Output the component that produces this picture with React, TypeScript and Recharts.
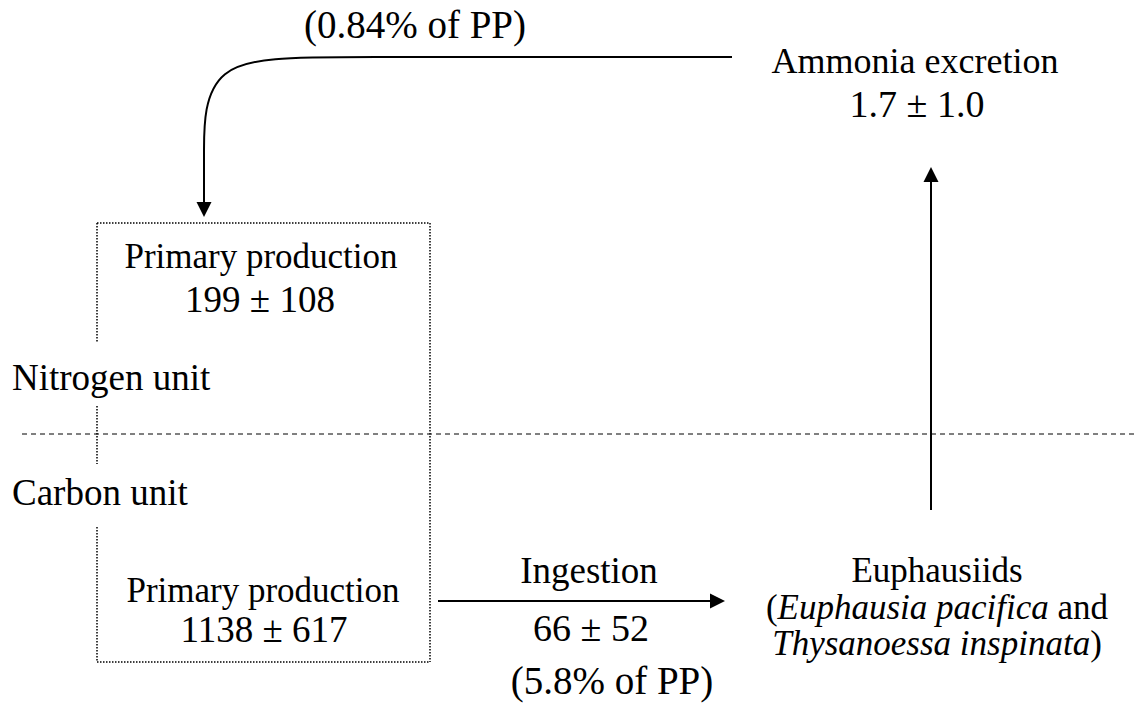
import { ComposedChart, XAxis, YAxis, ReferenceLine, Scatter, Line } from 'recharts';

const W = 1138;
const H = 709;

// flux estimates, mean ± sd
const fluxMeans = ['199', '1138', '66', '1.7'];   // PP (N), PP (C), ingestion, excretion
const fluxSds = ['108', '617', '52', '1.0'];
const pctOfPP = ['5.8', '0.84'];                 // ingestion, excretion
const unitNames = ['Nitrogen unit', 'Carbon unit'];
const speciesNames = ['Euphausia pacifica', 'Thysanoessa inspinata'];

const pm = (i: number) => `${fluxMeans[i]} \u00B1 ${fluxSds[i]}`;

// layout in diagram coordinates (x to the right, y downwards)
const box = { left: 97, right: 430, top: 223, bottom: 662 };
const leftEdgeGaps = [[223, 343], [406, 464], [527, 662]];
const unitLineY = 434;

const returnPath = [
  { x: 732, y: 57 },
  { x: 330, y: 57 },
  { x: 204, y: 57 },
  { x: 204, y: 160 },
  { x: 204, y: 203 },
];

const arrowHeads = [
  { x: 204, y: 217, dir: 'down' },
  { x: 931, y: 167, dir: 'up' },
  { x: 725, y: 601, dir: 'right' },
];

type Part = { t: string; italic?: boolean };
type Label = { x: number; y: number; size: number; anchor?: string; parts: Part[] };

const labels: Label[] = [
  { x: 415, y: 38, size: 39, parts: [{ t: `(${pctOfPP[1]}% of PP)` }] },
  { x: 915, y: 73, size: 36, parts: [{ t: 'Ammonia excretion' }] },
  { x: 917, y: 117, size: 38, parts: [{ t: pm(3) }] },
  { x: 261, y: 268, size: 35, parts: [{ t: 'Primary production' }] },
  { x: 260, y: 312, size: 37, parts: [{ t: pm(0) }] },
  { x: 12, y: 390, size: 37, anchor: 'start', parts: [{ t: unitNames[0] }] },
  { x: 12, y: 505, size: 37, anchor: 'start', parts: [{ t: unitNames[1] }] },
  { x: 263, y: 602, size: 35, parts: [{ t: 'Primary production' }] },
  { x: 264, y: 642, size: 37, parts: [{ t: pm(1) }] },
  { x: 589, y: 583, size: 37, parts: [{ t: 'Ingestion' }] },
  { x: 591, y: 641, size: 38, parts: [{ t: pm(2) }] },
  { x: 612, y: 694, size: 39, parts: [{ t: `(${pctOfPP[0]}% of PP)` }] },
  { x: 937, y: 582, size: 35, parts: [{ t: 'Euphausiids' }] },
  { x: 937, y: 619, size: 35, parts: [{ t: '(' }, { t: speciesNames[0], italic: true }, { t: ' and' }] },
  { x: 937, y: 655, size: 35, parts: [{ t: speciesNames[1], italic: true }, { t: ')' }] },
];

const FONT = '"Liberation Serif", "Times New Roman", Times, "DejaVu Serif", serif';

function TextMark(props: any) {
  const { cx, cy, payload } = props;
  return (
    <text x={cx} y={cy} textAnchor={payload.anchor || 'middle'} fill="#000" style={{ fontFamily: FONT, fontSize: payload.size }}>
      {payload.parts.map((p: Part, i: number) => (
        <tspan key={i} style={{ fontFamily: FONT, fontStyle: p.italic ? 'italic' : 'normal' }}>{p.t}</tspan>
      ))}
    </text>
  );
}

function ArrowHead(props: any) {
  const { cx, cy, payload } = props;
  const len = 15, hw = 7.5;
  let pts = '';
  if (payload.dir === 'down') pts = `${cx},${cy} ${cx - hw},${cy - len} ${cx + hw},${cy - len}`;
  if (payload.dir === 'up') pts = `${cx},${cy} ${cx - hw},${cy + len} ${cx + hw},${cy + len}`;
  if (payload.dir === 'right') pts = `${cx},${cy} ${cx - len},${cy - hw} ${cx - len},${cy + hw}`;
  return <polygon points={pts} fill="#000" />;
}

const dotted = { stroke: '#000', strokeWidth: 1.5, strokeDasharray: '1.5 1.5' };
const solid = { stroke: '#000', strokeWidth: 2 };

export default function App() {
  return (
    <div style={{ position: 'absolute', left: 0, top: 0, background: '#fff', fontFamily: FONT }}>
      <ComposedChart width={W} height={H} margin={{ top: 0, right: 0, bottom: 0, left: 0 }}>
        <XAxis type="number" dataKey="x" domain={[0, W]} hide allowDataOverflow />
        <YAxis type="number" dataKey="y" domain={[0, H]} reversed hide allowDataOverflow />

        {/* nitrogen / carbon divider */}
        <ReferenceLine segment={[{ x: 22, y: unitLineY }, { x: W, y: unitLineY }]} stroke="#000" strokeWidth={1} strokeDasharray="5 4" />

        {/* primary production box */}
        <ReferenceLine segment={[{ x: box.left, y: box.top }, { x: box.right, y: box.top }]} {...dotted} />
        <ReferenceLine segment={[{ x: box.right, y: box.top }, { x: box.right, y: box.bottom }]} {...dotted} />
        <ReferenceLine segment={[{ x: box.left, y: box.bottom }, { x: box.right, y: box.bottom }]} {...dotted} />
        {leftEdgeGaps.map(([a, b], i) => (
          <ReferenceLine key={i} segment={[{ x: box.left, y: a }, { x: box.left, y: b }]} {...dotted} />
        ))}

        {/* ingestion and excretion arrows */}
        <ReferenceLine segment={[{ x: 438, y: 601 }, { x: 712, y: 601 }]} {...solid} />
        <ReferenceLine segment={[{ x: 931, y: 510 }, { x: 931, y: 180 }]} {...solid} />

        {/* recycling path back to primary production */}
        <Line data={returnPath} dataKey="y" type="basis" stroke="#000" strokeWidth={2} dot={false} activeDot={false} isAnimationActive={false} />

        <Scatter data={arrowHeads} shape={ArrowHead} isAnimationActive={false} />
        <Scatter data={labels} shape={TextMark} isAnimationActive={false} />
      </ComposedChart>
    </div>
  );
}
